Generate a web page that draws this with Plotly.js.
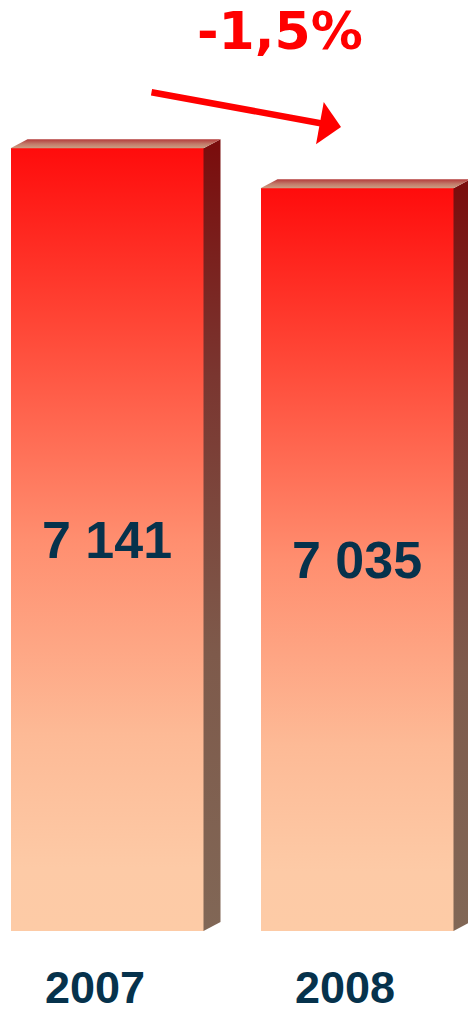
<!DOCTYPE html>
<html>
<head>
<meta charset="utf-8">
<script src="https://cdn.plot.ly/plotly-3.0.1.min.js"></script>
<style>
  html, body { margin: 0; padding: 0; background: #ffffff; }
  #chart { width: 468px; height: 1013px; }
</style>
</head>
<body>
<div id="chart"></div>
<script>
// ---- data ----
const years = ['2007', '2008'];
const values = [7141, 7035];
const changeLabel = '-1,5%';

// ---- styling / geometry constants ----
const AXIS_MIN = 5067;
const AXIS_MAX = 7534;
const BAR_WIDTH = 0.772;
const DEPTH_X = 0.068;   // depth of 3D faces in x units
const DEPTH_Y = 24;      // depth of 3D faces in y units
const NAVY = '#06324c';
const RED = '#ff0000';
const NUM_FONT = 'Liberation Sans, Arial, sans-serif';

const xs = years.map((_, i) => i);
const fmt = v => String(v).replace(/\B(?=(\d{3})+(?!\d))/g, ' ');

const traces = [];

// front faces (bars)
traces.push({
  type: 'bar',
  x: xs,
  y: values.map(v => v - AXIS_MIN),
  base: AXIS_MIN,
  width: BAR_WIDTH,
  text: values.map(fmt),
  textposition: 'inside',
  insidetextanchor: 'middle',
  textangle: 0,
  textfont: { family: NUM_FONT, size: 52, color: NAVY, weight: 'bold' },
  marker: { color: '#ff7a5e', line: { width: 0 } },
  hoverinfo: 'skip',
  showlegend: false
});

// side faces
values.forEach((v, i) => {
  const xr = xs[i] + BAR_WIDTH / 2;
  traces.push({
    type: 'scatter', mode: 'lines',
    x: [xr, xr + DEPTH_X, xr + DEPTH_X, xr, xr],
    y: [AXIS_MIN, AXIS_MIN + DEPTH_Y, v + DEPTH_Y, v, AXIS_MIN],
    fill: 'toself',
    line: { width: 0 },
    fillcolor: '#7a3a33',
    fillgradient: {
      type: 'vertical',
      colorscale: [[0, '#816756'], [0.35, '#7e5a4b'], [0.7, '#7a3630'], [1, '#7a0c0c']]
    },
    hoverinfo: 'skip', showlegend: false
  });
});

// top faces
values.forEach((v, i) => {
  const xl = xs[i] - BAR_WIDTH / 2;
  const xr = xs[i] + BAR_WIDTH / 2;
  traces.push({
    type: 'scatter', mode: 'lines',
    x: [xl, xl + DEPTH_X, xr + DEPTH_X, xr, xl],
    y: [v, v + DEPTH_Y, v + DEPTH_Y, v, v],
    fill: 'toself',
    line: { width: 0 },
    fillcolor: '#c07060',
    fillgradient: {
      type: 'vertical',
      colorscale: [[0, '#cba084'], [0.5, '#c27868'], [1, '#b33a3a']]
    },
    hoverinfo: 'skip', showlegend: false
  });
});

const layout = {
  width: 468,
  height: 1013,
  margin: { l: 0, r: 0, t: 0, b: 82, pad: 0 },
  paper_bgcolor: '#ffffff',
  plot_bgcolor: '#ffffff',
  showlegend: false,
  bargap: 0,
  xaxis: {
    range: [-0.428, 1.444],
    tickvals: xs,
    ticktext: years,
    tickfont: { family: NUM_FONT, size: 45, color: NAVY, weight: 'bold' },
    ticks: '',
    ticklabelshift: -12,
    ticklabelstandoff: 26,
    showgrid: false, zeroline: false, showline: false,
    fixedrange: true
  },
  yaxis: {
    range: [AXIS_MIN, AXIS_MAX],
    visible: false,
    showgrid: false, zeroline: false,
    fixedrange: true
  },
  annotations: [
    {
      text: changeLabel,
      xref: 'paper', yref: 'paper',
      x: 280 / 468, y: 1 - 31 / 931,
      xanchor: 'center', yanchor: 'middle',
      showarrow: false,
      font: { family: 'DejaVu Sans, Verdana, sans-serif', size: 52, color: RED, weight: 'bold' }
    },
    {
      text: '',
      xref: 'paper', yref: 'paper',
      x: 341 / 468, y: 1 - 127 / 931,
      ax: -191, ay: -35,
      showarrow: true,
      arrowhead: 1,
      arrowwidth: 6.5,
      arrowsize: 1.1,
      arrowcolor: RED,
      standoff: 0
    }
  ]
};

Plotly.newPlot('chart', traces, layout, { displayModeBar: false, staticPlot: true }).then(gd => {
  const svg = gd.querySelector('svg.main-svg');
  let defs = svg.querySelector('defs');
  if (!defs) { defs = document.createElementNS('http://www.w3.org/2000/svg', 'defs'); svg.insertBefore(defs, svg.firstChild); }
  const grad = document.createElementNS('http://www.w3.org/2000/svg', 'linearGradient');
  grad.setAttribute('id', 'frontGrad');
  grad.setAttribute('x1', '0'); grad.setAttribute('y1', '0');
  grad.setAttribute('x2', '0'); grad.setAttribute('y2', '1');
  const stops = [[0, '#ff0c0c'], [0.22, '#ff4535'], [0.5, '#ff8e6f'], [0.75, '#fdba96'], [0.92, '#fdcaa6'], [1, '#fdcba6']];
  stops.forEach(([o, c]) => {
    const s = document.createElementNS('http://www.w3.org/2000/svg', 'stop');
    s.setAttribute('offset', o);
    s.setAttribute('stop-color', c);
    grad.appendChild(s);
  });
  defs.appendChild(grad);
  gd.querySelectorAll('.barlayer .point path').forEach(p => { p.style.fill = 'url(#frontGrad)'; });
});
</script>
</body>
</html>
